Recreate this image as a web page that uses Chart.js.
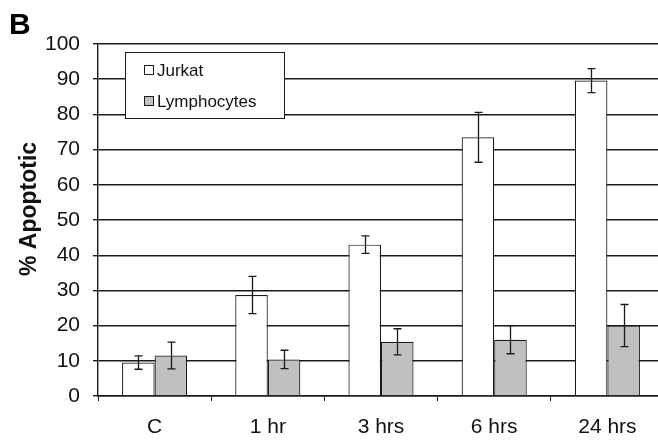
<!DOCTYPE html>
<html>
<head>
<meta charset="utf-8">
<script src="https://cdn.jsdelivr.net/npm/chart.js@4/dist/chart.umd.min.js"></script>
<style>
  html, body { margin: 0; padding: 0; background: #fff; overflow: hidden; }
  #wrap { width: 658px; height: 443px; overflow: hidden; position: relative; }
  canvas { display: block; }
</style>
</head>
<body>
<div id="wrap"><canvas id="c" width="666" height="443"></canvas></div>
<script>
// Time points after treatment
const categories = ['C', '1 hr', '3 hrs', '6 hrs', '24 hrs'];

// Mean % apoptotic cells and standard deviations
const jurkat      = [9.5, 28.7, 43.0, 73.5, 89.6];
const jurkatErr   = [1.9, 5.3, 2.5, 7.1, 3.4];
const lymph       = [11.5, 10.4, 15.4, 16.0, 20.0];
const lymphErr    = [3.8, 2.6, 3.7, 4.0, 6.0];

const seriesNames = ['Jurkat', 'Lymphocytes'];
const yTicks = [0, 10, 20, 30, 40, 50, 60, 70, 80, 90, 100];

const INK = '#1a1a1a';
const FONT = "'Liberation Sans', Arial, sans-serif";

// Error bars (± SD) on top of every bar
const errorBars = {
  id: 'errorBars',
  afterDatasetsDraw(chart) {
    const ctx = chart.ctx;
    const y = chart.scales.y;
    ctx.save();
    ctx.strokeStyle = INK;
    ctx.lineWidth = 1.3;
    chart.data.datasets.forEach((ds, i) => {
      const meta = chart.getDatasetMeta(i);
      meta.data.forEach((bar, j) => {
        const v = ds.data[j], e = ds.errors[j];
        const x = Math.round(bar.x) + 0.5;
        const yt = y.getPixelForValue(v + e);
        const yb = y.getPixelForValue(v - e);
        ctx.beginPath();
        ctx.moveTo(x, yt); ctx.lineTo(x, yb);
        ctx.moveTo(x - 4, yt); ctx.lineTo(x + 4, yt);
        ctx.moveTo(x - 4, yb); ctx.lineTo(x + 4, yb);
        ctx.stroke();
      });
    });
    ctx.restore();
  }
};

// Boxed legend inside the plot, panel letter and rotated axis title
const decorations = {
  id: 'decorations',
  afterDraw(chart) {
    const ctx = chart.ctx;
    ctx.save();
    // legend box
    const bx = 125.5, by = 52.5, bw = 159, bh = 66;
    ctx.fillStyle = '#fff';
    ctx.fillRect(bx, by, bw, bh);
    ctx.strokeStyle = INK;
    ctx.lineWidth = 1;
    ctx.strokeRect(bx, by, bw, bh);
    const rows = [70, 101];
    chart.data.datasets.forEach((ds, i) => {
      const cy = rows[i];
      ctx.fillStyle = ds.backgroundColor;
      ctx.fillRect(144.5, cy - 4.5, 9, 9);
      ctx.strokeStyle = INK;
      ctx.strokeRect(144.5, cy - 4.5, 9, 9);
      ctx.fillStyle = '#111';
      ctx.font = '17px ' + FONT;
      ctx.textBaseline = 'middle';
      ctx.textAlign = 'left';
      ctx.fillText(ds.label, 157, cy + 1);
    });
    // panel letter
    ctx.fillStyle = '#000';
    ctx.font = 'bold 30px ' + FONT;
    ctx.textBaseline = 'alphabetic';
    ctx.fillText('B', 9, 34);
    // y axis title
    ctx.translate(30, 209);
    ctx.rotate(-Math.PI / 2);
    ctx.font = 'bold 23px ' + FONT;
    ctx.textAlign = 'center';
    ctx.textBaseline = 'middle';
    ctx.fillStyle = '#111';
    ctx.fillText('% Apoptotic', 0, 0);
    ctx.restore();
  }
};

new Chart(document.getElementById('c'), {
  type: 'bar',
  data: {
    labels: categories,
    datasets: [
      {
        label: seriesNames[0], data: jurkat, errors: jurkatErr,
        backgroundColor: '#ffffff', borderColor: INK, borderWidth: 1.2,
        barPercentage: 1, categoryPercentage: 0.575
      },
      {
        label: seriesNames[1], data: lymph, errors: lymphErr,
        backgroundColor: '#c0c0c0', borderColor: INK, borderWidth: 1.2,
        barPercentage: 1, categoryPercentage: 0.575
      }
    ]
  },
  options: {
    responsive: false,
    animation: false,
    devicePixelRatio: 1,
    layout: { padding: { left: 0, top: 44, right: 2, bottom: 0 } },
    plugins: { legend: { display: false }, tooltip: { enabled: false }, title: { display: false } },
    scales: {
      x: {
        grid: { display: true, drawOnChartArea: false, drawTicks: true, tickLength: 5, color: INK, offset: true, lineWidth: 1 },
        border: { display: true, color: INK, width: 1.4 },
        ticks: { color: '#111', font: { family: FONT, size: 21 }, padding: 14, maxRotation: 0 },
        afterFit(s) { s.height = 47; }
      },
      y: {
        min: 0, max: 100,
        afterBuildTicks(s) { s.ticks = yTicks.map(v => ({ value: v })); },
        grid: { color: INK, lineWidth: 1.4, tickLength: 5, drawTicks: true },
        border: { display: true, color: INK, width: 1.4 },
        ticks: { color: '#111', font: { family: FONT, size: 21 }, padding: 13 },
        afterFit(s) { s.width = 98; }
      }
    }
  },
  plugins: [errorBars, decorations]
});
</script>
</body>
</html>
